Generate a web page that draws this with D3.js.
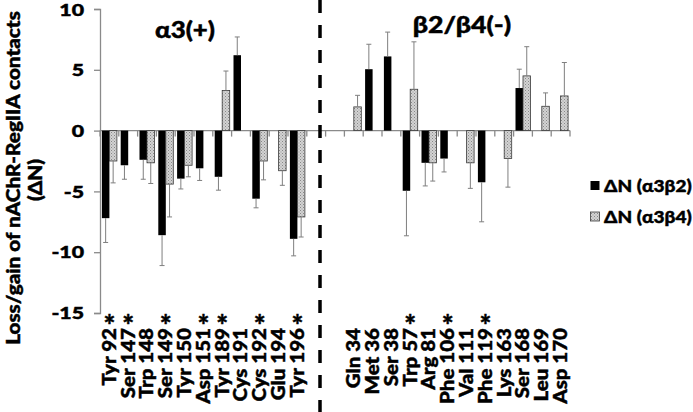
<!DOCTYPE html>
<html><head><meta charset="utf-8">
<script src="https://cdn.jsdelivr.net/npm/d3@7"></script>
<style>
body{margin:0;background:#fff}
text{font-family:Lato,"Open Sans",sans-serif;font-weight:900;fill:#000;stroke:#000;stroke-width:0.45px}
</style>
</head><body>
<svg id="chart" width="693" height="412"></svg>
<script>
// ---------------- data ----------------
const categories = ["Tyr 92","Ser 147","Trp 148","Ser 149","Tyr 150","Asp 151","Tyr 189","Cys 191","Cys 192","Glu 194","Tyr 196","","",
  "Gln 34","Met 36","Ser 38","Trp 57","Arg 81","Phe 106","Val 111","Phe 119","Lys 163","Ser 168","Leu 169","Asp 170"];
const a3b2    = [-7.2,-2.85,-2.4,-8.6,-3.95,-3.1,-3.8,6.2,-5.6,0,-8.9,0,0, 0,5.05,6.1,-4.95,-2.65,-2.3,0,-4.25,0,3.5,0,0];
const a3b2Err = [2.0,1.15,1.6,2.5,0.85,1.0,1.1,1.5,0.75,0,1.4,0,0, 0,2.05,2.0,3.7,1.9,1.1,0,3.25,0,1.55,0,0];
const a3b4    = [-2.5,0,-2.65,-4.4,-2.85,0,3.3,0,-2.5,-3.3,-7.1,0,0, 1.95,0,0,3.4,-2.65,0,-2.65,0,-2.3,4.5,2.0,2.85];
const a3b4Err = [1.8,0,1.7,2.7,0.95,0,1.6,0,1.55,1.2,1.65,0,0, 0.95,0,0,3.9,1.5,0,2.1,0,2.35,2.4,1.1,2.75];
const significant = ["Tyr 92","Ser 147","Ser 149","Asp 151","Tyr 189","Cys 192","Tyr 196","Trp 57","Phe 106","Phe 119"];
const yTicks = [-15,-10,-5,0,5,10];
const seriesNames = ["ΔN (α3β2)","ΔN (α3β4)"];
const groupTitles = ["α3(+)","β2/β4(-)"];
const yTitle = ["Loss/gain of nAChR-RegIIA contacts","(ΔN)"];

// ---------------- chart ----------------
const svg = d3.select("#chart");
svg.append("rect").attr("width",693).attr("height",412).attr("fill","#fff");

const defs = svg.append("defs");
const pat = defs.append("pattern").attr("id","hatch").attr("patternUnits","userSpaceOnUse")
  .attr("width",3).attr("height",3);
pat.append("rect").attr("width",3).attr("height",3).attr("fill","#d3d3d3");
pat.append("rect").attr("x",0).attr("y",0).attr("width",1).attr("height",1).attr("fill","#888");
pat.append("rect").attr("x",1.5).attr("y",1.5).attr("width",1).attr("height",1).attr("fill","#999");

const x = d3.scaleBand().domain(d3.range(categories.length)).range([100,570]).paddingInner(0).paddingOuter(0);
const y = d3.scaleLinear().domain([-15,10]).range([313,9]);
const bw = 7.5;
const AX = "#8a8a8a";

function stext(parent, str, opts){
  const g = parent.append("g").attr("transform",
    `translate(${opts.x},${opts.y}) rotate(${opts.rot||0}) scale(${opts.sx||1},1)`);
  return g.append("text").text(str)
    .attr("font-size",opts.size).attr("text-anchor",opts.anchor||"start")
    .attr("dy",opts.dy||0);
}

// y axis
const yAxis = svg.append("g").attr("transform","translate(100,0)")
  .call(d3.axisLeft(y).tickValues(yTicks).tickSize(6).tickFormat(""));
yAxis.select(".domain").attr("stroke",AX).attr("stroke-width",1.3);
yAxis.selectAll(".tick line").attr("stroke",AX).attr("stroke-width",1.3);
yTicks.forEach(t=>{
  stext(svg, String(t), {x:84, y:y(t)+(t===10?0.5:0), size:17, sx:1.25, anchor:"end", dy:"0.36em"});
});

// zero line with category ticks
const y0 = y(0);
svg.append("line").attr("x1",x.range()[0]).attr("x2",x.range()[1]).attr("y1",y0).attr("y2",y0)
  .attr("stroke",AX).attr("stroke-width",1.3);
svg.append("g").selectAll("line").data(d3.range(categories.length+1)).join("line")
  .attr("x1",i=>x.range()[0]+i*x.step()).attr("x2",i=>x.range()[0]+i*x.step())
  .attr("y1",y0).attr("y2",y0+6).attr("stroke",AX).attr("stroke-width",1.3);

// bars
const idx = d3.range(categories.length);
const series = [
  {vals:a3b2, err:a3b2Err, off:-bw, fill:"#000", stroke:"none"},
  {vals:a3b4, err:a3b4Err, off:0, fill:"url(#hatch)", stroke:"#3a3a3a"}
];
series.forEach(s=>{
  const items = idx.filter(i=>s.vals[i]!==0);
  svg.append("g").selectAll("rect").data(items).join("rect")
    .attr("x",i=>x(i)+x.bandwidth()/2+s.off)
    .attr("width",bw)
    .attr("y",i=>Math.min(y(s.vals[i]),y0))
    .attr("height",i=>Math.abs(y(s.vals[i])-y0))
    .attr("fill",s.fill).attr("stroke",s.stroke).attr("stroke-width",0.8);
  const eg = svg.append("g").attr("stroke","#7f7f7f").attr("stroke-width",1);
  items.forEach(i=>{
    const v = s.vals[i], e = s.err[i]*Math.sign(v);
    const cx = x(i)+x.bandwidth()/2+s.off+bw/2;
    eg.append("line").attr("x1",cx).attr("x2",cx).attr("y1",y(v)).attr("y2",y(v+e));
    eg.append("line").attr("x1",cx-2.5).attr("x2",cx+2.5).attr("y1",y(v+e)).attr("y2",y(v+e));
  });
});

// category labels
idx.forEach(i=>{
  if(!categories[i]) return;
  const cx = x(i)+x.bandwidth()/2;
  stext(svg, categories[i], {x:cx, y:328, rot:-90, size:19, sx:1.08, anchor:"end", dy:"0.34em"});
  if(significant.includes(categories[i])){
    svg.append("text").text("*").attr("x",cx).attr("y",335).attr("font-size",28).attr("text-anchor","middle");
  }
});

// divider
svg.append("line").attr("x1",320).attr("x2",320).attr("y1",0).attr("y2",412)
  .attr("stroke","#000").attr("stroke-width",3.5).attr("stroke-dasharray","13,12");

// group titles
stext(svg, groupTitles[0], {x:185, y:37.5, size:23.5, sx:1.1, anchor:"middle"});
stext(svg, groupTitles[1], {x:462, y:33, size:23, sx:1.16, anchor:"middle"});

// y title
stext(svg, yTitle[0], {x:14, y:178, rot:-90, size:18.5, sx:1.12, anchor:"middle", dy:"0.33em"});
stext(svg, yTitle[1], {x:36, y:180, rot:-90, size:18.5, sx:1.12, anchor:"middle", dy:"0.33em"});

// legend
const lg = svg.append("g");
[0,1].forEach(k=>{
  const cy = 185.5 + k*31;
  lg.append("rect").attr("x",590.5).attr("y",cy-4.5).attr("width",9).attr("height",9)
    .attr("fill",k===0?"#000":"url(#hatch)").attr("stroke",k===0?"none":"#3a3a3a").attr("stroke-width",0.8);
  stext(lg, seriesNames[k], {x:604, y:cy, size:17, sx:1.12, anchor:"start", dy:"0.36em"});
});
</script>
</body></html>
